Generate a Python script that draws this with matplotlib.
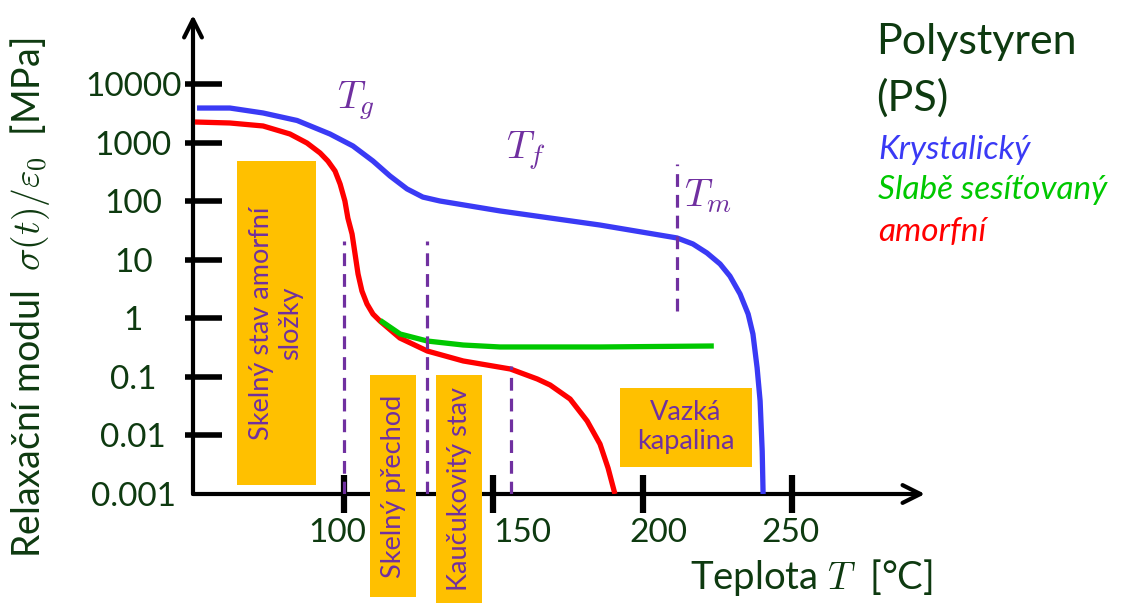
import matplotlib.pyplot as plt
import matplotlib.transforms as mtransforms
from matplotlib.patches import Rectangle

plt.rcParams['font.family'] = ['Lato', 'DejaVu Sans']
plt.rcParams['mathtext.fontset'] = 'cm'

# krystalicky PS
temp_kryst = [50.8, 61.8, 72.9, 84.3, 95.3, 103.0, 109.7, 115.4, 121.1, 126.4,
              132.1, 152.2, 185.7, 211.5, 216.8, 221.5, 225.9, 229.2, 232.6,
              235.3, 236.9, 238.3, 239.3, 240.0, 240.3]
mod_kryst = [3960, 3960, 3260, 2425, 1426, 889, 492, 273, 164, 119,
             102, 69, 39.6, 23.8, 18.8, 13.2, 8.55, 5.3, 2.62,
             1.19, 0.543, 0.143, 0.039, 0.0054, 0.001]

# amorfni PS
temp_amorf = [50.1, 61.8, 72.9, 81.9, 87.6, 92.0, 94.6, 97.0, 98.7, 100.3,
              101.3, 102.7, 103.7, 104.7, 106.0, 107.7, 109.7, 112.1, 118.7,
              127.9, 139.9, 155.7, 164.7, 169.0, 175.7, 181.4, 185.7, 188.4,
              190.7]
mod_amorf = [2285, 2198, 1954, 1426, 1000, 675, 492, 332, 199, 102,
             52, 27.8, 12.7, 5.77, 2.95, 1.77, 1.19, 0.9, 0.464,
             0.278, 0.188, 0.137, 0.0925, 0.073, 0.042, 0.0177, 0.00716, 0.00278,
             0.001]

# slabe sesitovany PS
temp_sesit = [112.1, 118.8, 127.9, 139.9, 152.2, 185.9, 223.8]
mod_sesit = [0.93, 0.543, 0.412, 0.352, 0.326, 0.326, 0.339]

# prechodove teploty (carkovane cary): teplota, spodni a horni mez
prechody_t = [100.0, 127.8, 155.9, 211.5]
prechody_od = [0.001, 0.001, 0.001, 1.34]
prechody_do = [21, 21, 0.154, 437]

# oblasti: rozsah teplot, rozsah modulu, text, otoceni
oblasti_t = [(64.1, 90.6), (108.7, 124.2), (130.9, 146.3), (192.3, 236.6)]
oblasti_m = [(0.00143, 492), (1.73e-5, 0.108), (1.32e-5, 0.108), (0.0029, 0.0649)]
oblasti_text = ['Skelný stav amorfní\nsložky', 'Skelný přechod',
                'Kaučukovitý stav', 'Vazká\nkapalina']
oblasti_rot = [90, 90, 90, 0]

yticks = [0.001, 0.01, 0.1, 1, 10, 100, 1000, 10000]
ytick_labels = ['0.001', '0.01', '0.1', '1', '10', '100', '1000', '10000']
xticks = [100, 150, 200, 250]
xtick_labels = ['100', '150', '200', '250']
xlabel_shift = [-7, 29, 16, -2]

tmave_zelena = '#0e3a10'
fialova = '#7030a0'
oranzova = '#ffc000'
modra = '#3a3af5'
zelena = '#00c800'
cervena = '#ff0000'

W, H = 1131, 603


def fxy(px, py):
    return px / W, 1 - py / H


fig = plt.figure(figsize=(W / 100, H / 100), dpi=100)
ax = fig.add_axes([193 / W, (H - 494) / H, (925 - 193) / W, (494 - 15) / H])
ax.set_yscale('log')
ax.set_xlim(49.45, 294.5)
ax.set_ylim(0.001, 10 ** 5.188)
for s in ax.spines.values():
    s.set_visible(False)
ax.patch.set_alpha(0)

# osy se sipkami
for konec in [(0, 1), (1, 0)]:
    ax.annotate('', xy=konec, xytext=(0, 0), xycoords='axes fraction',
                arrowprops=dict(arrowstyle='->', lw=3, color='black',
                                mutation_scale=32, shrinkA=0, shrinkB=0), zorder=1)

ax.set_yticks(yticks)
ax.set_yticklabels(ytick_labels)
ax.yaxis.set_minor_locator(plt.FixedLocator(yticks[1:]))
ax.yaxis.remove_overlapping_locs = False
ax.yaxis.set_minor_formatter(plt.NullFormatter())
ax.tick_params(axis='y', which='major', direction='in', length=21, width=4,
               pad=43, labelsize=24, labelcolor=tmave_zelena)
ax.tick_params(axis='y', which='minor', direction='out', length=6, width=4)
ax.yaxis.get_major_ticks()[0].tick1line.set_visible(False)
for lab in ax.get_yticklabels():
    lab.set_horizontalalignment('center')

ax.set_xticks(xticks)
ax.set_xticklabels(xtick_labels)
ax.tick_params(axis='x', which='major', direction='inout', length=27, width=4.5,
               pad=4, labelsize=24, labelcolor=tmave_zelena)
for lab, dx in zip(ax.get_xticklabels(), xlabel_shift):
    lab.set_transform(lab.get_transform() +
                      mtransforms.ScaledTranslation(dx / 100, 0, fig.dpi_scale_trans))

# oblasti
for (t0, t1), (m0, m1), txt, rot in zip(oblasti_t, oblasti_m, oblasti_text, oblasti_rot):
    ax.add_patch(Rectangle((t0, m0), t1 - t0, m1 - m0, facecolor=oranzova,
                           edgecolor='none', clip_on=False, zorder=3))
    ax.text((t0 + t1) / 2, (m0 * m1) ** 0.5, txt, rotation=rot, ha='center',
            va='center', ma='center', fontsize=19.5, color=fialova,
            linespacing=1.2, zorder=4, clip_on=False)

# krivky
ax.plot(temp_kryst, mod_kryst, color=modra, lw=3.8, zorder=5,
        solid_capstyle='butt', solid_joinstyle='round')
ax.plot(temp_amorf, mod_amorf, color=cervena, lw=3.8, zorder=5,
        solid_capstyle='butt', solid_joinstyle='round')
ax.plot(temp_sesit, mod_sesit, color=zelena, lw=3.8, zorder=6,
        solid_capstyle='butt', solid_joinstyle='round')

ax.vlines(prechody_t, prechody_od, prechody_do, colors=fialova, lw=2.3,
          linestyles=(0, (4, 2.5)), zorder=7)

ax.text(104, 5200, '$T_g$', fontsize=28, color=fialova, ha='center', va='center')
ax.text(161, 730, '$T_f$', fontsize=28, color=fialova, ha='center', va='center')
ax.text(222, 124, '$T_m$', fontsize=28, color=fialova, ha='center', va='center')

# popisky os
fig.text(*fxy(30, 298), 'Relaxační modul  $\\sigma(t)/\\varepsilon_0$  [MPa]',
         rotation=90, ha='center', va='center', fontsize=27, color=tmave_zelena)
fig.text(*fxy(690, 578), 'Teplota $T$  [°C]', ha='left', va='center',
         fontsize=27.5, color=tmave_zelena)

# nazev a legenda
fig.text(*fxy(876, 42), 'Polystyren', ha='left', va='center', fontsize=31,
         color=tmave_zelena)
fig.text(*fxy(876, 98), '(PS)', ha='left', va='center', fontsize=31,
         color=tmave_zelena)
fig.text(*fxy(878, 150), 'Krystalický', ha='left', va='center', fontsize=24,
         style='italic', color=modra)
fig.text(*fxy(878, 190), 'Slabě sesíťovaný', ha='left', va='center', fontsize=24,
         style='italic', color=zelena)
fig.text(*fxy(878, 232), 'amorfní', ha='left', va='center', fontsize=24,
         style='italic', color=cervena)

fig.savefig('out.png', dpi=100)
